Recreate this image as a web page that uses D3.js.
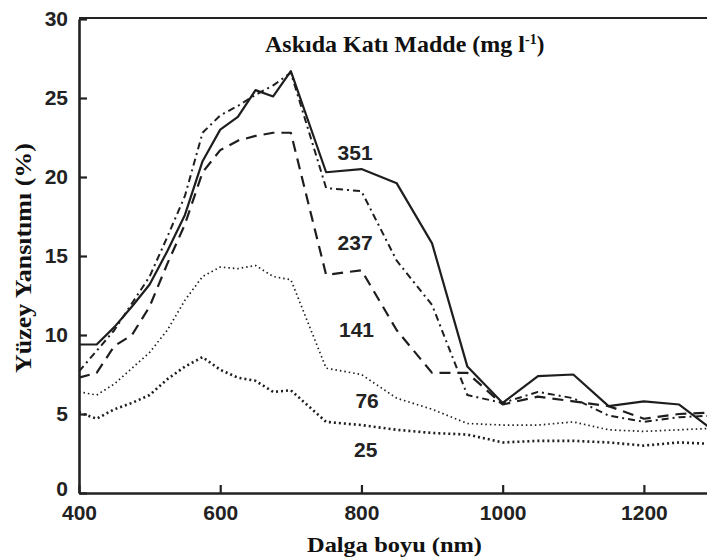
<!DOCTYPE html>
<html>
<head>
<meta charset="utf-8">
<script src="https://cdn.jsdelivr.net/npm/d3@7"></script>
<style>
  html, body { margin: 0; padding: 0; background: #fff; }
  svg { display: block; }
</style>
</head>
<body>
<div id="chart"></div>
<script>
// Dalga boyları (nm)
const wavelengths = [400,425,450,475,500,525,550,575,600,625,650,675,700,750,800,850,900,950,1000,1050,1100,1150,1200,1250,1300];

// Yüzey yansıtımı (%) — AKM konsantrasyonuna göre
const r351 = [9.4,9.4,10.5,11.8,13.2,15.3,17.6,21.0,23.0,23.8,25.5,25.1,26.7,20.3,20.5,19.6,15.8,8.0,5.7,7.4,7.5,5.5,5.8,5.6,3.9];
const r237 = [7.7,9.0,10.3,12.0,13.7,16.2,18.8,22.8,23.9,24.5,25.2,25.8,26.6,19.3,19.1,14.7,11.9,6.2,5.7,6.4,6.0,4.9,4.5,4.8,4.9];
const r141 = [7.3,7.6,9.3,10.0,11.8,14.5,17.0,20.3,21.7,22.3,22.6,22.8,22.8,13.8,14.1,10.3,7.6,7.6,5.6,6.1,5.8,5.5,4.7,5.0,5.1];
const r76  = [6.4,6.2,6.9,7.9,8.9,10.3,12.2,13.7,14.3,14.2,14.4,13.7,13.5,7.9,7.5,6.0,5.3,4.4,4.3,4.3,4.5,4.0,3.9,4.0,4.1];
const r25  = [5.1,4.7,5.3,5.7,6.2,7.2,8.0,8.6,7.8,7.3,7.1,6.4,6.5,4.5,4.3,4.0,3.8,3.7,3.2,3.3,3.3,3.2,3.0,3.2,3.1];

const seriesNames = ["351","237","141","76","25"];
const xTicks = [400,600,800,1000,1200];
const yTicks = [0,5,10,15,20,25,30];

// etiket konumu: [nm, yansıtım]
const series = [
  { name: seriesNames[0], values: r351, dash: null,      width: 2.2, label: [791, 21.1] },
  { name: seriesNames[1], values: r237, dash: "7,4,2,4", width: 2,   label: [791, 15.4] },
  { name: seriesNames[2], values: r141, dash: "11,7",    width: 2.2, label: [793, 9.9] },
  { name: seriesNames[3], values: r76,  dash: "1.5,3",   width: 1.7, label: [808, 5.4] },
  { name: seriesNames[4], values: r25,  dash: "2,3",     width: 2.6, label: [806, 2.3] }
];

const W = 707, H = 560;
const svg = d3.select("#chart").append("svg")
  .attr("width", W).attr("height", H);

const x = d3.scaleLinear().domain([400, 1300]).range([79, 714.5]);
const y = d3.scaleLinear().domain([0, 30]).range([493, 19]);

const tickFont = "'Liberation Sans', Arial, sans-serif";
const serif = "'Liberation Serif', 'Times New Roman', serif";

// Çizgiler
const line = d3.line()
  .x((d, i) => x(wavelengths[i]))
  .y(d => y(d));

svg.selectAll(".series")
  .data(series)
  .enter().append("path")
  .attr("class", "series")
  .attr("d", d => line(d.values))
  .attr("fill", "none")
  .attr("stroke", "#1e1e1e")
  .attr("stroke-width", d => d.width)
  .attr("stroke-dasharray", d => d.dash)
  .attr("stroke-linejoin", "round");

// Seri etiketleri
svg.selectAll(".slabel")
  .data(series)
  .enter().append("text")
  .attr("class", "slabel")
  .attr("x", d => x(d.label[0]))
  .attr("y", d => y(d.label[1]))
  .attr("text-anchor", "middle")
  .attr("font-family", tickFont)
  .attr("font-weight", "bold")
  .attr("font-size", "21px")
  .attr("fill", "#222")
  .text(d => d.name);

// Eksenler
const axisColor = "#222";
svg.append("line")
  .attr("x1", 79).attr("x2", W).attr("y1", 18).attr("y2", 18)
  .attr("stroke", axisColor).attr("stroke-width", 2.2);

const gx = svg.append("g").attr("transform", `translate(0,493)`)
  .call(d3.axisBottom(x).tickValues(xTicks).tickFormat(d3.format("d"))
    .tickSizeInner(-8).tickSizeOuter(0).tickPadding(12));
gx.select(".domain").attr("stroke", axisColor).attr("stroke-width", 2.6);
gx.selectAll("line").attr("stroke", axisColor).attr("stroke-width", 2.2);
gx.selectAll("text")
  .attr("fill", "#222").attr("font-size", "21px").attr("font-weight", "bold")
  .attr("font-family", tickFont);

const gy = svg.append("g").attr("transform", `translate(79,0)`)
  .call(d3.axisLeft(y).tickValues(yTicks).tickSizeInner(-8).tickSizeOuter(0).tickPadding(11));
gy.select(".domain").attr("stroke", axisColor).attr("stroke-width", 2.6);
gy.selectAll("line").attr("stroke", axisColor).attr("stroke-width", 2.2);
gy.selectAll("text")
  .attr("fill", "#222").attr("font-size", "21px").attr("font-weight", "bold")
  .attr("font-family", tickFont)
  .attr("dy", d => d === 0 ? "0.12em" : "0.32em");

// Başlık
const title = svg.append("text")
  .attr("x", 265).attr("y", 52)
  .attr("font-family", serif)
  .attr("font-weight", "bold")
  .attr("font-size", "23px")
  .attr("fill", "#111");
title.append("tspan")
  .attr("textLength", 260).attr("lengthAdjust", "spacingAndGlyphs")
  .text("Askıda  Katı Madde (mg l");
title.append("tspan").attr("dy", -8).attr("font-size", "14px").text("-1");
title.append("tspan").attr("dy", 8).text(")");

// Eksen başlıkları
svg.append("text")
  .attr("x", 307).attr("y", 552)
  .attr("textLength", 175).attr("lengthAdjust", "spacingAndGlyphs")
  .attr("font-family", serif)
  .attr("font-weight", "bold")
  .attr("font-size", "22px")
  .attr("fill", "#111")
  .text("Dalga boyu (nm)");

svg.append("text")
  .attr("transform", "translate(31,373) rotate(-90)")
  .attr("textLength", 230).attr("lengthAdjust", "spacingAndGlyphs")
  .attr("font-family", serif)
  .attr("font-weight", "bold")
  .attr("font-size", "23px")
  .attr("fill", "#111")
  .text("Yüzey  Yansıtımı (%)");
</script>
</body>
</html>
